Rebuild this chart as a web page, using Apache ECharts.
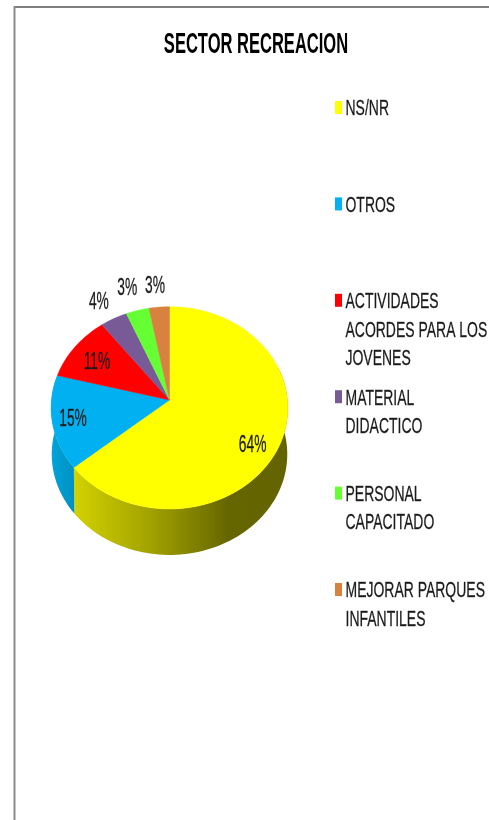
<!DOCTYPE html>
<html><head><meta charset="utf-8">
<style>html,body{margin:0;padding:0;background:#fff}#c{width:489px;height:820px}</style>
<script src="https://cdn.jsdelivr.net/npm/echarts@6/dist/echarts.min.js"></script>
</head><body><div id="c"></div>
<script>
const chartTitle = 'SECTOR RECREACION';
const categories = ['NS/NR','OTROS','ACTIVIDADES\nACORDES PARA LOS\nJOVENES','MATERIAL\nDIDACTICO','PERSONAL\nCAPACITADO','MEJORAR PARQUES\nINFANTILES'];
const values = [64, 15, 10.6, 4, 3.4, 3];
const colors = ['#ffff00','#00b0f0','#ff0000','#775a96','#66ff33','#d9823f'];

// layout and style
const FONT = '"Liberation Sans", Arial, sans-serif';
const pie = {cx:169.5, cy:400, a:118, s:100.5, k:0.0775, depth:46.5, taper:0.995};
const labelRadius = [0.75,0.75,0.75,1.18,1.18,1.18];
const labelNudge = [[1,13],[-9,3],[-1,3],[-5.6,-2],[-5,-7],[-2.5,-5]];
const wallFills = {
  0:{type:'linear',x:74,y:0,x2:288,y2:0,global:true,colorStops:[
    {offset:0,color:'#d2d200'},{offset:0.35,color:'#a3a300'},{offset:0.72,color:'#666600'},{offset:1,color:'#636300'}]},
  1:{type:'linear',x:51,y:0,x2:75,y2:0,global:true,colorStops:[
    {offset:0,color:'#00a4dc'},{offset:1,color:'#0090bf'}]}
};

const total = values.reduce((a,b)=>a+b,0);
function project(tDeg, r){
  const t = tDeg*Math.PI/180, u = r*Math.sin(t), v = r*Math.cos(t), w = 1+pie.k*v;
  return [pie.cx+pie.a*u/w, pie.cy-pie.s*v/w];
}
function arc(t0,t1,r){
  const n = Math.max(2,Math.ceil(Math.abs(t1-t0)/2)), pts=[];
  for(let i=0;i<=n;i++) pts.push(project(t0+(t1-t0)*i/n,r));
  return pts;
}
function renderItem(params, api){
  const i = params.dataIndex;
  const before = values.slice(0,i).reduce((a,b)=>a+b,0);
  const v = api.value(0);
  const t0 = before/total*360, t1 = (before+v)/total*360;
  const children = [];
  const a0 = Math.max(t0,70), a1 = Math.min(t1,290);
  if(a1>a0 && wallFills[i]){
    const top = arc(a0,a1,1);
    const bottom = top.map(p=>[pie.cx+(p[0]-pie.cx)*pie.taper, pie.cy+(p[1]-pie.cy)*pie.taper+pie.depth]).reverse();
    children.push({type:'polygon',z2:1,shape:{points:top.concat(bottom)},style:{fill:wallFills[i]}});
  }
  children.push({type:'polygon',z2:5,shape:{points:[[pie.cx,pie.cy]].concat(arc(t0,t1,1))},
    style:{fill:colors[i],stroke:colors[i],lineWidth:0.5}});
  const p = project((t0+t1)/2,labelRadius[i]);
  children.push({type:'text',z2:10,x:p[0]+labelNudge[i][0],y:p[1]+labelNudge[i][1],scaleX:0.6,
    style:{text:Math.round(v/total*100)+'%',x:0,y:0,align:'center',verticalAlign:'middle',
      font:'23px '+FONT,fill:'#1a1a1a',stroke:'#333',lineWidth:0.3}});
  return {type:'group',children};
}

const graphics = [
  {type:'rect',shape:{x:14,y:6,width:475,height:2},style:{fill:'#7f7f7f'},silent:true},
  {type:'rect',shape:{x:13.5,y:6,width:2,height:814},style:{fill:'#8c8c8c'},silent:true},
  {type:'text',x:256,y:45,scaleX:0.57,silent:true,
    style:{text:chartTitle,x:0,y:0,align:'center',verticalAlign:'middle',font:'bold 29px '+FONT,fill:'#000'}}
];
categories.forEach((name,i)=>{
  const yc = 107.5+i*96.4;
  graphics.push({type:'rect',shape:{x:335,y:yc-6.5,width:7,height:13},style:{fill:colors[i]},silent:true});
  graphics.push({type:'text',x:345.5,y:yc-12.5,scaleX:0.635,silent:true,
    style:{text:name,x:0,y:0,align:'left',verticalAlign:'top',font:'22px '+FONT,lineHeight:28.5,fill:'#1a1a1a',stroke:'#333',lineWidth:0.3}});
});

const chart = echarts.init(document.getElementById('c'),null,{renderer:'canvas'});
chart.setOption({
  animation:false,
  backgroundColor:'#fff',
  graphic:graphics,
  series:[{type:'custom',coordinateSystem:'none',renderItem,silent:true,
    data:values.map((v,i)=>({name:categories[i],value:[v]}))}]
});
</script></body></html>
